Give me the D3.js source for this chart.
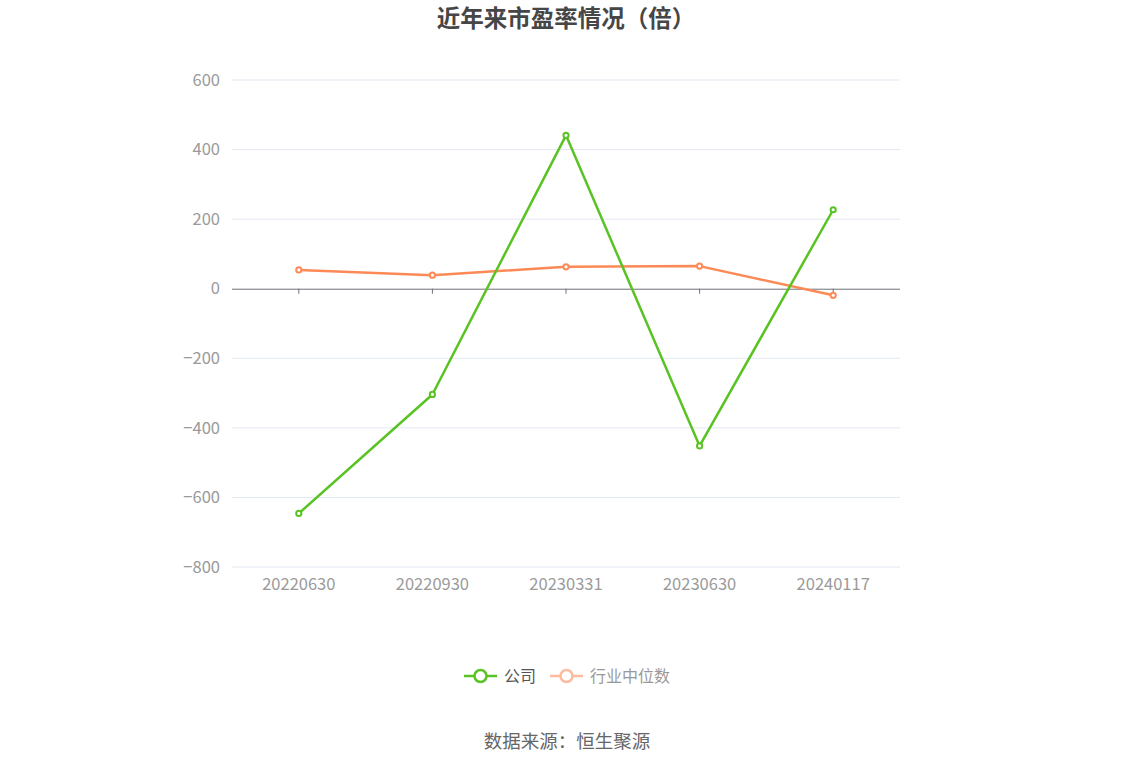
<!DOCTYPE html>
<html>
<head>
<meta charset="utf-8">
<script src="https://cdn.jsdelivr.net/npm/d3@7"></script>
<style>
  body { margin: 0; background: #fff; }
  svg { display: block; font-family: "Noto Sans CJK SC", "Noto Sans", sans-serif; }
</style>
</head>
<body>
<div id="chart"></div>
<script>
// data
var categories = ["20220630", "20220930", "20230331", "20230630", "20240117"];
var companyPE = [-646, -304, 441, -452, 227];
var industryPE = [54, 39, 63, 65, -19];
var yTicks = [600, 400, 200, 0, -200, -400, -600, -800];
var seriesNames = ["公司", "行业中位数"];

var W = 1134, H = 766,
    margin = { left: 232, right: 234, top: 80, bottom: 199 };

var svg = d3.select("#chart").append("svg")
    .attr("width", W).attr("height", H);

var x = d3.scaleBand().domain(categories)
    .range([margin.left, W - margin.right]);
var y = d3.scaleLinear().domain([-800, 600])
    .range([H - margin.bottom, margin.top]);

// title
svg.append("text")
    .attr("x", W / 2 - 1).attr("y", 27)
    .attr("text-anchor", "middle")
    .style("font-size", "23.5px").style("font-weight", "bold")
    .style("fill", "#464646")
    .text("近年来市盈率情况（倍）");

// grid lines
svg.append("g").selectAll("line")
    .data(yTicks.filter(function (d) { return d !== 0; }))
  .enter().append("line")
    .attr("x1", margin.left).attr("x2", W - margin.right)
    .attr("y1", function (d) { return y(d); })
    .attr("y2", function (d) { return y(d); })
    .style("stroke", "#e2e7f2").style("stroke-width", 1);

// y labels
var yAxis = d3.axisLeft(y).tickValues(yTicks).tickSize(0).tickPadding(12);
svg.append("g")
    .attr("transform", "translate(" + margin.left + ",0)")
    .call(yAxis)
    .call(function (g) { g.select(".domain").remove(); })
    .selectAll("text")
    .style("font-size", "16.5px").style("fill", "#9a9a9a")
    .style("font-family", "'Noto Sans CJK SC', sans-serif");

// zero axis with ticks
var xAxis = d3.axisBottom(x).tickSize(5).tickFormat("");
svg.append("g")
    .attr("transform", "translate(0," + y(0) + ")")
    .call(xAxis)
    .call(function (g) {
        g.select(".domain").attr("d", "M" + margin.left + ",0.5H" + (W - margin.right))
            .style("stroke", "#6e7079");
        g.selectAll(".tick line").style("stroke", "#6e7079");
    });

// category labels along bottom
svg.append("g").selectAll("text")
    .data(categories)
  .enter().append("text")
    .attr("x", function (d) { return x(d) + x.bandwidth() / 2; })
    .attr("y", H - margin.bottom + 23)
    .attr("text-anchor", "middle")
    .style("font-size", "16.5px").style("fill", "#9a9a9a")
    .text(function (d) { return d; });

var cx = function (d, i) { return x(categories[i]) + x.bandwidth() / 2; };
var line = d3.line().x(cx).y(function (d) { return y(d); });

function drawSeries(values, color) {
    var g = svg.append("g");
    g.append("path")
        .datum(values)
        .attr("d", line)
        .style("fill", "none").style("stroke", color)
        .style("stroke-width", 2.5).style("stroke-linejoin", "round");
    g.selectAll("circle")
        .data(values)
      .enter().append("circle")
        .attr("cx", cx)
        .attr("cy", function (d) { return y(d); })
        .attr("r", 2.6)
        .style("fill", "#fff").style("stroke", color).style("stroke-width", 2);
}

drawSeries(industryPE, "#fd8a56");
drawSeries(companyPE, "#58c322");

// legend
var legend = [
    { name: seriesNames[0], color: "#58c322", text: "#555", x: 464 },
    { name: seriesNames[1], color: "#fdbba0", text: "#999", x: 550 }
];
var lg = svg.append("g").selectAll("g")
    .data(legend)
  .enter().append("g")
    .attr("transform", function (d) { return "translate(" + d.x + ",676)"; });
lg.append("line")
    .attr("x1", 0).attr("x2", 33)
    .style("stroke", function (d) { return d.color; }).style("stroke-width", 2.5);
lg.append("circle")
    .attr("cx", 16.5).attr("r", 6)
    .style("fill", "#fff")
    .style("stroke", function (d) { return d.color; }).style("stroke-width", 2.5);
lg.append("text")
    .attr("x", 40).attr("y", 5.5)
    .style("font-size", "16px")
    .style("fill", function (d) { return d.text; })
    .text(function (d) { return d.name; });

// source
svg.append("text")
    .attr("x", W / 2).attr("y", 748)
    .attr("text-anchor", "middle")
    .style("font-size", "18.5px").style("fill", "#666")
    .text("数据来源：恒生聚源");
</script>
</body>
</html>
